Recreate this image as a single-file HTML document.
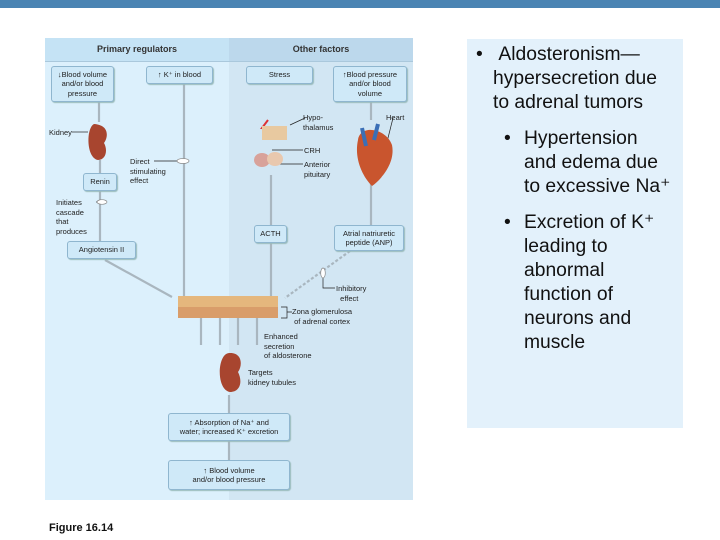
<!DOCTYPE html>
<html><head><style>
body{margin:0;width:720px;height:540px;background:#fff;position:relative;overflow:hidden;font-family:"Liberation Sans",sans-serif}
.a{position:absolute}
.box{position:absolute;background:#cfe9f8;border:1px solid #8fb6cf;border-radius:3px;box-shadow:1px 1px 1px #9bb;font-size:7.5px;color:#222;text-align:center;line-height:9.5px;box-sizing:border-box;display:flex;align-items:center;justify-content:center}
.t{position:absolute;font-size:7.5px;color:#222;line-height:9.5px}
.r{position:absolute;font-size:19.3px;color:#111;line-height:24px;white-space:nowrap}
</style></head><body>
<div class="a" style="left:0;top:0;width:720px;height:8px;background:#4a84b3"></div>
<div class="a" style="left:45px;top:38px;width:184px;height:462px;background:#dcf0fc"></div>
<div class="a" style="left:229px;top:38px;width:184px;height:462px;background:#d2e6f3"></div>
<div class="a" style="left:45px;top:38px;width:184px;height:23px;background:#c5e3f5;border-bottom:1px solid #aac8dc"></div>
<div class="a" style="left:229px;top:38px;width:184px;height:23px;background:#bcd8ec;border-bottom:1px solid #aac8dc"></div>
<div class="a" style="left:45px;top:44px;width:184px;text-align:center;font-size:9px;font-weight:bold;color:#333">Primary regulators</div>
<div class="a" style="left:229px;top:44px;width:184px;text-align:center;font-size:9px;font-weight:bold;color:#333">Other factors</div>
<svg class="a" style="left:0;top:0" width="720" height="540">
<g stroke="#a9b6bf" stroke-width="2.2" fill="none">
<line x1="99" y1="102" x2="99" y2="122"/><line x1="100" y1="160" x2="100" y2="173"/>
<line x1="100" y1="191" x2="100" y2="241"/><line x1="105" y1="260" x2="172" y2="297"/>
<line x1="184" y1="84" x2="184" y2="296"/><line x1="271" y1="175" x2="271" y2="225"/>
<line x1="271" y1="243" x2="271" y2="296"/><line x1="371" y1="102" x2="371" y2="120"/><line x1="371" y1="170" x2="371" y2="225"/>
<line x1="201" y1="318" x2="201" y2="345"/><line x1="220" y1="318" x2="220" y2="345"/>
<line x1="238" y1="318" x2="238" y2="345"/><line x1="257" y1="318" x2="257" y2="345"/>
<line x1="229" y1="395" x2="229" y2="413"/><line x1="229" y1="441" x2="229" y2="460"/>
<line x1="350" y1="251" x2="285" y2="298" stroke-dasharray="3,2"/>
</g>
<g stroke="#222" stroke-width="0.7" fill="none"><line x1="72" y1="132" x2="88" y2="132"/><line x1="154" y1="161" x2="180" y2="161"/><line x1="96" y1="202" x2="105" y2="202"/>
<line x1="305" y1="118" x2="290" y2="125"/><line x1="303" y1="150" x2="272" y2="150"/><line x1="303" y1="164" x2="270" y2="164"/><line x1="393" y1="118" x2="385" y2="150"/>
<path d="M323 270 V288 H335"/><path d="M281 307 H287 V318 H281 M287 312 H292"/></g>
<ellipse cx="183" cy="161" rx="6" ry="2.5" fill="#fff" stroke="#888" stroke-width="0.7"/>
<ellipse cx="102" cy="202" rx="5" ry="2.3" fill="#fff" stroke="#888" stroke-width="0.7"/>
<ellipse cx="323" cy="273" rx="2.3" ry="5" fill="#fff" stroke="#888" stroke-width="0.7"/>
<path d="M94 124 C86 128 86 158 98 160 C106 160 108 150 104 143 C108 138 110 125 94 124Z" fill="#a8452f"/>
<path d="M229 353 C217 354 216 390 230 392 C240 392 243 382 238 372 C243 365 242 352 229 353Z" fill="#a8452f"/>
<path d="M268 120 L262 128 L268 128 L263 137" stroke="#d33" stroke-width="2" fill="none"/>
<rect x="262" y="126" width="25" height="14" fill="#e8c9a0"/><ellipse cx="262" cy="160" rx="8" ry="7" fill="#d8a29a"/><ellipse cx="275" cy="159" rx="8" ry="7" fill="#e9c8ae"/>
<path d="M358 140 C360 124 386 128 392 145 C396 165 378 182 372 186 C362 176 354 158 358 140Z" fill="#c9552e"/>
<path d="M362 128 L366 146 M378 124 L374 140" stroke="#3b6fb6" stroke-width="4"/>
<rect x="178" y="296" width="100" height="11" fill="#e5b77d"/><rect x="178" y="307" width="100" height="11" fill="#d99d6a"/>
</svg>
<div class="box" style="left:51px;top:66px;width:63px;height:36px">↓Blood volume<br>and/or blood<br>pressure</div>
<div class="box" style="left:146px;top:66px;width:67px;height:18px">↑ K⁺ in blood</div>
<div class="box" style="left:246px;top:66px;width:67px;height:18px">Stress</div>
<div class="box" style="left:333px;top:66px;width:74px;height:36px">↑Blood pressure<br>and/or blood<br>volume</div>
<div class="box" style="left:83px;top:173px;width:34px;height:18px">Renin</div>
<div class="box" style="left:67px;top:241px;width:69px;height:18px">Angiotensin II</div>
<div class="box" style="left:254px;top:225px;width:33px;height:18px">ACTH</div>
<div class="box" style="left:334px;top:225px;width:70px;height:26px">Atrial natriuretic<br>peptide (ANP)</div>
<div class="box" style="left:168px;top:413px;width:122px;height:28px">↑ Absorption of Na⁺ and<br>water; increased K⁺ excretion</div>
<div class="box" style="left:168px;top:460px;width:122px;height:30px">↑ Blood volume<br>and/or blood pressure</div>
<div class="t" style="left:49px;top:128px">Kidney</div>
<div class="t" style="left:130px;top:157px">Direct<br>stimulating<br>effect</div>
<div class="t" style="left:56px;top:198px">Initiates<br>cascade<br>that<br>produces</div>
<div class="t" style="left:303px;top:113px">Hypo-<br>thalamus</div>
<div class="t" style="left:386px;top:113px">Heart</div>
<div class="t" style="left:304px;top:146px">CRH</div>
<div class="t" style="left:304px;top:160px">Anterior<br>pituitary</div>
<div class="t" style="left:336px;top:284px">Inhibitory<br>&nbsp;&nbsp;effect</div>
<div class="t" style="left:292px;top:307px">Zona glomerulosa<br>&nbsp;of adrenal cortex</div>
<div class="t" style="left:264px;top:332px">Enhanced<br>secretion<br>of aldosterone</div>
<div class="t" style="left:248px;top:368px">Targets<br>kidney tubules</div>
<div class="a" style="left:49px;top:522px;font-size:11px;font-weight:bold;color:#111">Figure 16.14</div>
<div class="a" style="left:467px;top:39px;width:216px;height:389px;background:#e3f1fb"></div>
<div class="r" style="left:476px;top:43px">•</div>
<div class="r" style="left:493px;top:43px">&nbsp;Aldosteronism—<br>hypersecretion due<br>to adrenal tumors</div>
<div class="r" style="left:504px;top:127px">•</div>
<div class="r" style="left:524px;top:127px">Hypertension<br>and edema due<br>to excessive Na⁺</div>
<div class="r" style="left:504px;top:211px">•</div>
<div class="r" style="left:524px;top:211px">Excretion of K⁺<br>leading to<br>abnormal<br>function of<br>neurons and<br>muscle</div>
</body></html>
